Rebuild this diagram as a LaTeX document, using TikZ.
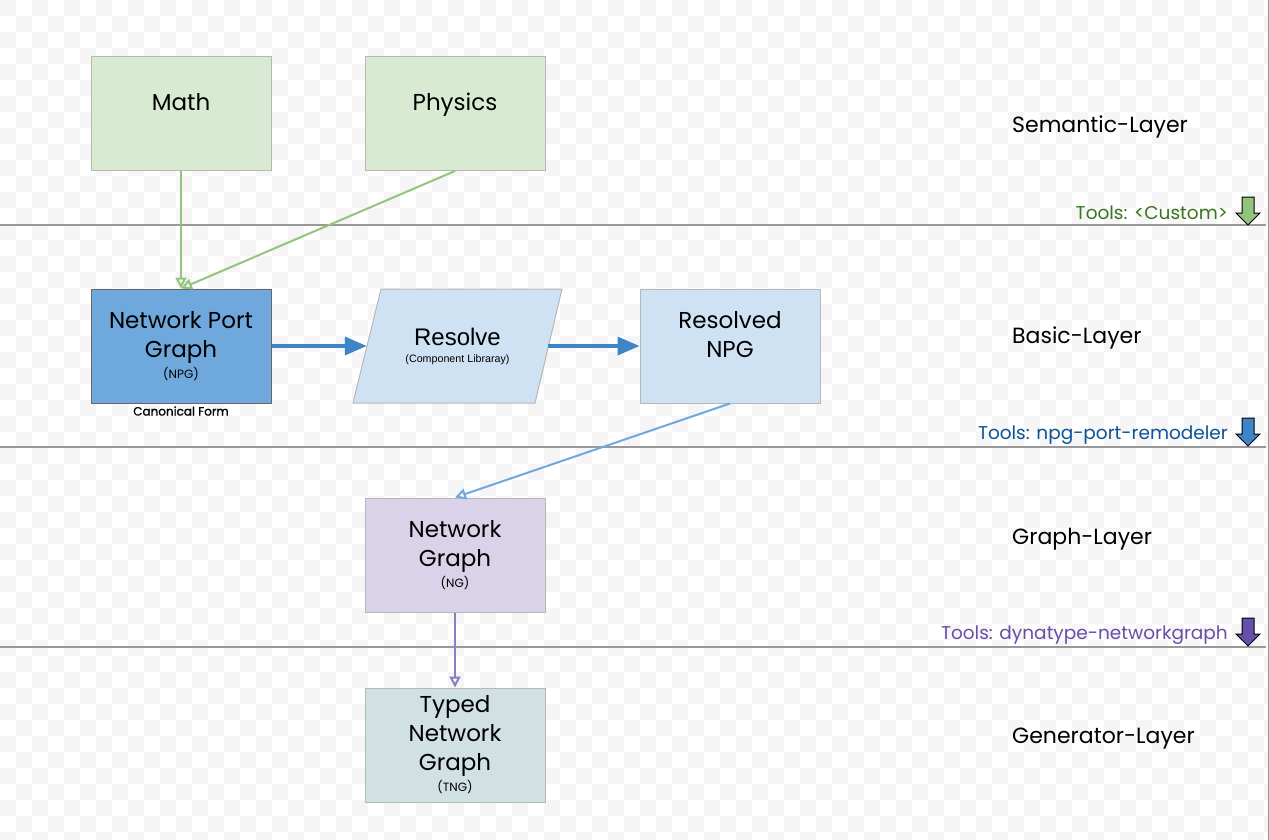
\documentclass[tikz,border=0pt]{standalone}
\usepackage{fontspec}
\setmainfont{Poppins}
\newfontfamily\arialfont{Liberation Sans}
\newfontfamily\canonfont{Poppins}[FakeBold=1.2]
\usetikzlibrary{arrows.meta}
\newcommand\boxfont{\fontsize{23}{29}\selectfont}
\newcommand\subfont{\fontsize{12}{14}\selectfont}
\newcommand\toolfont{\fontsize{18.5}{22}\selectfont}
\definecolor{semfill}{HTML}{D9EAD3}
\definecolor{npgfill}{HTML}{6FA8DC}
\definecolor{resfill}{HTML}{CFE2F3}
\definecolor{ngfill}{HTML}{D9D2E9}
\definecolor{tngfill}{HTML}{D0E0E3}
\definecolor{boxline}{HTML}{B7B7B7}
\definecolor{greenline}{HTML}{93C47D}
\definecolor{greentext}{HTML}{38761D}
\definecolor{bluethick}{HTML}{3D85C6}
\definecolor{bluetext}{HTML}{0B5394}
\definecolor{purpleline}{HTML}{8E7CC3}
\definecolor{purpletext}{HTML}{674EA7}
\definecolor{layerline}{HTML}{999999}
\begin{document}
\begin{tikzpicture}[
   x=1pt,y=-1pt,
   box/.style={draw=boxline,line width=1pt,minimum width=180pt,minimum height=114pt,
      align=center,font=\boxfont,inner sep=0pt},
   resolvebox/.style={align=center,inner sep=0pt,minimum width=181pt,minimum height=114pt,
      font={\arialfont\fontsize{24}{29}\selectfont}},
   layer/.style={anchor=west,font=\fontsize{22}{29}\selectfont,inner sep=0pt},
   tools/.style={anchor=east,font=\toolfont,inner sep=0pt},
   sep/.style={draw=layerline,line width=1.2pt},
   feed/.style={-{Triangle[open,length=11pt,width=11pt]},line width=2pt},
   flow/.style={-{Triangle[length=22pt,width=18pt]},draw=bluethick,line width=3.5pt},
   checker/.style={fill=black!4},
   pics/toolarrow/.style={code={
      \draw[black,fill=#1,line width=1pt] (-6,0) -- (6,0) -- (6,16) -- (12,16) -- (0,28) -- (-12,16) -- (-6,16) -- cycle;}}]
\useasboundingbox (0,0) rectangle (1269,840);
% background
\foreach \j [evaluate=\j as \off using {mod(\j,2)*16}] in {0,...,52}
  \foreach \i in {0,2,...,78}
    \fill[checker] ({\i*16+\off},\j*16) rectangle +(16,16);
\draw[layerline,line width=1pt] (1268,0) -- (1268,840);
% layers
\draw[sep] (0,225) -- (1266,225);
\draw[sep] (0,447) -- (1266,447);
\draw[sep] (0,647) -- (1266,647);
\node[layer] (semantic) at (1012,127) {Semantic-Layer};
\node[layer] (basic) at (1012,338) {Basic-Layer};
\node[layer] (graph) at (1012,539) {Graph-Layer};
\node[layer] (generator) at (1012,739) {Generator-Layer};
\node[tools,text=greentext] (toolsA) at (1228,213) {Tools: <Custom>};
\node[tools,text=bluetext] (toolsB) at (1228,435) {Tools: npg-port-remodeler};
\node[tools,text=purpletext] (toolsC) at (1228,635) {Tools: dynatype-networkgraph};
\pic at (1248,197) {toolarrow=greenline};
\pic at (1248,418) {toolarrow=bluethick};
\pic at (1248,618) {toolarrow=purpletext};
% boxes
\node[box,fill=semfill] (Math) at (181,113.5) {Math\\[-8pt]{\subfont\phantom{(X)}}};
\node[box,fill=semfill] (Physics) at (455,113.5) {Physics\\[-8pt]{\subfont\phantom{(X)}}};
\node[box,fill=npgfill,draw=black!60] (NPG) at (181,346) {Network Port\\Graph\\[-8pt]{\subfont (NPG)}};
\node[font=\canonfont\fontsize{12}{14}\selectfont] (canon) at (181,411) {Canonical Form};
\path[fill=resfill,draw=boxline,line width=1pt] (381,289) -- (562,289) -- (535,403) -- (353,403) -- cycle;
\node[resolvebox] (Resolve) at (457.5,346) {Resolve\\[-12pt]{\arialfont\fontsize{10.7}{12}\selectfont (Component Libraray)}};
\node[box,fill=resfill] (Resolved) at (730,346) {Resolved\\NPG\\[-8pt]{\subfont\phantom{(X)}}};
\node[box,fill=ngfill] (NG) at (455,555) {Network\\Graph\\[-8pt]{\subfont (NG)}};
\node[box,fill=tngfill] (TNG) at (455,745) {Typed\\Network\\Graph\\[-8pt]{\subfont (TNG)}};
% connectors
\draw[feed,greenline] (Math.south) -- (NPG.north);
\draw[feed,greenline] (Physics.south) -- (NPG.north);
\draw[flow] (NPG.east) -- (Resolve.west);
\draw[flow] (Resolve.east) -- (Resolved.west);
\draw[feed,npgfill] (Resolved.south) -- (NG.north);
\draw[feed,purpleline] (NG.south) -- (TNG.north);
\end{tikzpicture}
\end{document}
